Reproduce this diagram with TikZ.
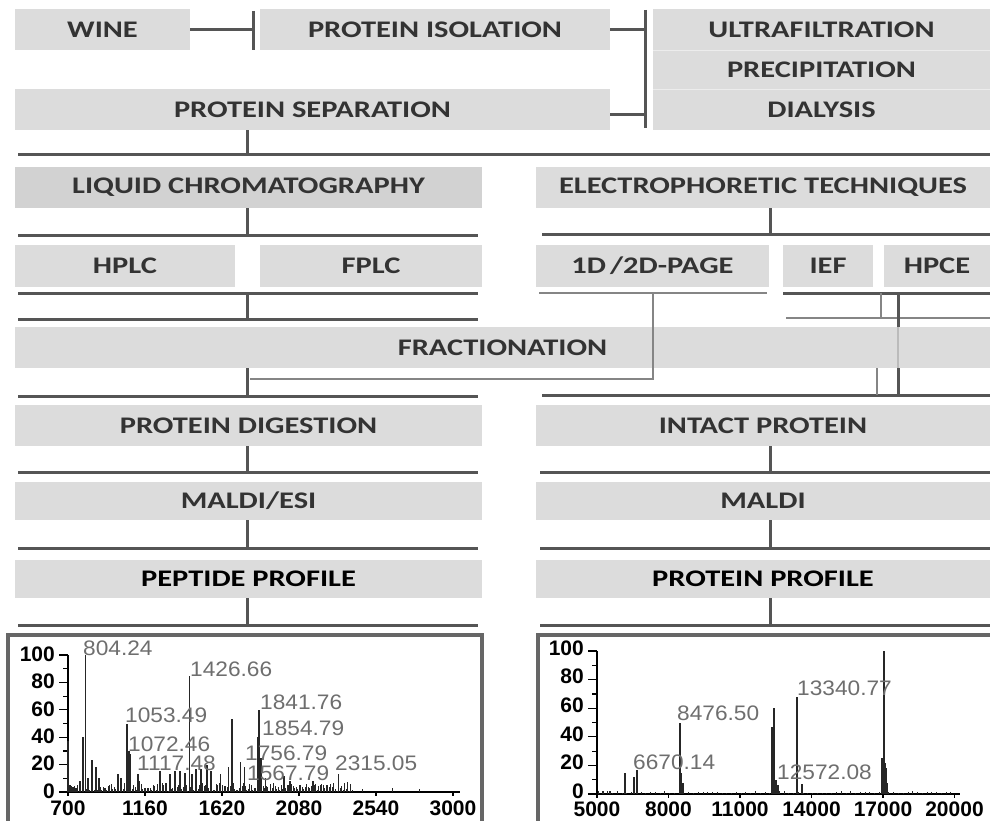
\documentclass[tikz,border=0pt]{standalone}
\usepackage{fontspec}
\setmainfont{Liberation Sans}
\newfontfamily\boxfont{Carlito}[FakeStretch=1.28]
\newfontfamily\specfont{Liberation Sans}[FakeStretch=1.08]
\usetikzlibrary{positioning,calc}
\definecolor{boxgray}{HTML}{DCDCDC}
\definecolor{boxdark}{HTML}{D2D2D2}
\definecolor{linegray}{HTML}{555555}
\definecolor{lightline}{HTML}{858585}
\definecolor{textgray}{HTML}{333333}
\definecolor{framegray}{HTML}{666666}
\definecolor{pkgray}{HTML}{6E6E6E}

\begin{document}
\begin{tikzpicture}[x=1pt, y=-1pt,
  box/.style={fill=boxgray, text=textgray, inner sep=0pt, minimum height=41pt,
              font={\boxfont\bfseries\fontsize{23.8}{28}\selectfont}},
  bus/.style={draw=linegray, line width=3pt},
  thinbus/.style={draw=lightline, line width=2pt},
  frame/.style={draw=framegray, line width=3.5pt},
  axis/.style={draw=black, line width=1.2pt},
  peak/.style={draw=black!85, line width=1.4pt},
  ticklbl/.style={font={\bfseries\fontsize{21}{21}\selectfont}, inner sep=0pt},
  pklbl/.style={font={\specfont\fontsize{21}{21}\selectfont}, text=pkgray,
                inner sep=0pt, anchor=west}]
  \useasboundingbox (0,0) rectangle (990,821);

  % top row
  \node[box, minimum width=175pt] (wine) at (102.5,29.5) {WINE};
  \node[box, minimum width=350pt] (iso) at (435,29.5) {PROTEIN ISOLATION};
  \node[box, minimum width=337pt] (ultra) at (821.5,29.5) {ULTRAFILTRATION};
  \node[box, minimum width=337pt, minimum height=39pt] (precip) at (821.5,69.5) {PRECIPITATION};
  \node[box, minimum width=337pt] (dial) at (821.5,109.5) {DIALYSIS};
  \node[box, minimum width=595pt] (sep) at (312.5,109.5) {PROTEIN SEPARATION};
  \draw[boxgray!55!white, line width=1pt] (ultra.south west) -- (ultra.south east);
  \draw[boxgray!55!white, line width=1pt] (precip.south west) -- (precip.south east);

  % separation methods
  \node[box, fill=boxdark, minimum width=467pt] (lc) at (248.5,187.5) {LIQUID CHROMATOGRAPHY};
  \node[box, minimum width=454pt] (ep) at (763,187.5) {ELECTROPHORETIC TECHNIQUES};
  \node[box, minimum width=220pt, minimum height=42pt] (hplc) at (125,266) {HPLC};
  \node[box, minimum width=222pt, minimum height=42pt] (fplc) at (371,266) {FPLC};
  \node[box, minimum width=233pt, minimum height=42pt] (page) at (652.5,266) {1D\,/2D-PAGE};
  \node[box, minimum width=90pt, minimum height=42pt] (ief) at (828,266) {IEF};
  \node[box, minimum width=106pt, minimum height=42pt] (hpce) at (937,266) {HPCE};
  \node[box, minimum width=975pt] (frac) at (502.5,347.5) {FRACTIONATION};

  % MS branches
  \node[box, minimum width=467pt] (dig) at (248.5,425.5) {PROTEIN DIGESTION};
  \node[box, minimum width=454pt] (intact) at (763,425.5) {INTACT PROTEIN};
  \node[box, minimum width=467pt, minimum height=38pt] (msesi) at (248.5,501) {MALDI/ESI};
  \node[box, minimum width=454pt, minimum height=38pt] (ms) at (763,501) {MALDI};
  \node[box, minimum width=467pt, minimum height=38pt, text=black] (pep) at (248.5,579) {PEPTIDE PROFILE};
  \node[box, minimum width=454pt, minimum height=38pt, text=black] (prot) at (763,579) {PROTEIN PROFILE};

  \coordinate (lcol) at (247,0);
  \coordinate (rcol) at (770,0);

  % wine -> isolation
  \coordinate (winebar) at (253,11);
  \draw[bus] (wine.east) -- (wine.east -| winebar);
  \draw[bus] (winebar) -- (winebar |- iso.south);
  % isolation, separation -> ultrafiltration etc.
  \coordinate (sbar) at (645,10);
  \coordinate (sepout) at ($(sep.east)+(0,5)$);
  \draw[bus] (iso.east) -- (iso.east -| sbar);
  \draw[bus] (sepout) -- (sepout -| sbar);
  \draw[bus] (sbar) -- ($(sbar |- dial.south)+(0,-2)$);

  % separation -> LC / EP
  \coordinate (b1w) at (18,155); \coordinate (b1e) at (990,155);
  \draw[bus] (b1w) -- (b1e);
  \draw[bus] (lcol |- sep.south) -- (lcol |- b1w);
  \coordinate (b2w) at (18,235); \coordinate (b2e) at (478,235);
  \coordinate (b2rw) at (542,234); \coordinate (b2re) at (990,234);
  \draw[bus] (b2w) -- (b2e);
  \draw[bus] (b2rw) -- (b2re);
  \draw[bus] (lcol |- lc.south) -- (lcol |- b2w);
  \draw[bus] (rcol |- ep.south) -- (rcol |- b2rw);

  % HPLC/FPLC -> fractionation
  \coordinate (b3w) at (18,293); \coordinate (b3e) at (478,293);
  \coordinate (b4w) at (18,319); \coordinate (b4e) at (478,319);
  \draw[bus] (b3w) -- (b3e);
  \draw[bus] (b4w) -- (b4e);
  \draw[bus] (lcol |- b3w) -- (lcol |- b4w);

  % fractionation -> digestion / intact
  \coordinate (b5w) at (18,396); \coordinate (b5e) at (478,396);
  \coordinate (b5rw) at (542,395); \coordinate (b5re) at (990,395);
  \draw[bus] (b5w) -- (b5e);
  \draw[bus] (b5rw) -- (b5re);
  \draw[bus] (lcol |- frac.south) -- (lcol |- b5w);

  % 1D/2D-PAGE back to the left chain
  \coordinate (pgw) at (539,293); \coordinate (pge) at (767,293);
  \coordinate (fracjoin) at (250,379);
  \draw[thinbus] (pgw) -- (pge);
  \draw[thinbus] (page.south |- pgw) -- (page.south |- fracjoin) -- (fracjoin);

  % IEF/HPCE
  \coordinate (ihw) at (783,293); \coordinate (ihe) at (990,293);
  \coordinate (iew) at (786,318); \coordinate (iee) at (990,318);
  \coordinate (ieft) at (881,293); \coordinate (iefb) at (877,368);
  \coordinate (hx) at (898,293);
  \draw[bus] (ihw) -- (ihe);
  \draw[thinbus] (iew) -- (iee);
  \draw[thinbus] (ieft) -- (ieft |- iew);
  \draw[thinbus] (iefb) -- (iefb |- b5rw);
  \draw[bus] (hx) -- (hx |- frac.north);
  \draw[draw=boxgray!85!black, line width=2pt] (hx |- frac.north) -- (hx |- frac.south);
  \draw[bus] (hx |- frac.south) -- (hx |- b5rw);

  % digestion / intact chains
  \foreach \l/\r/\y in {dig/intact/472, msesi/ms/548, pep/prot/625} {
    \coordinate (lb) at (18,\y);
    \coordinate (rb) at (540,\y);
    \draw[bus] (lb) -- ++(460,0);
    \draw[bus] (rb) -- ++(450,0);
    \draw[bus] (lcol |- \l.south) -- (lcol |- lb);
    \draw[bus] (rcol |- \r.south) -- (rcol |- rb);
  }

  % peptide spectrum
  \draw[frame] (8,821) -- (8,635) -- (482,635) -- (482,821);
  \begin{scope}[shift={(-49.17,792)}, x=0.16739pt, y=1.37pt]
    \draw[axis] (700,0) -- (700,100);
    \draw[axis] (700,0) -- (3040,0);
    \foreach \v in {0,20,...,100} {
      \draw[axis] (700,\v) -- ++(-9pt,0);
      \node[ticklbl, anchor=east] (py\v) at ([xshift=-13pt, yshift=1pt]700,\v) {\v};
    }
    \foreach \v in {10,30,...,90} \draw[axis] (700,\v) -- ++(-5pt,0);
    \foreach \m in {700,1160,...,3000} {
      \draw[axis] (\m,0) -- ++(0,-4pt);
      \node[ticklbl, anchor=north] (px\m) at ([yshift=-9pt]\m,0) {\m};
    }
    \pgfmathsetseed{11}
    \foreach \m in {705,714,...,2400} \draw[peak, line width=1pt] (\m,0) -- (\m,{1+6*rnd});
    \foreach \m/\h in {700/37, 712/5, 724/4, 748/3, 772/8, 790/40, 804/100, 819/10,
                       843/23, 867/18, 885/10, 921/3, 999/13, 1017/10, 1053/50, 1065/30,
                       1072/28, 1117/13, 1126/8, 1250/15, 1310/13, 1340/15, 1370/15,
                       1400/14, 1427/85, 1440/13, 1465/17, 1495/17, 1530/20, 1555/15,
                       1610/13, 1660/18, 1680/53, 1730/22, 1756/18, 1836/40, 1842/60,
                       1854/25, 1880/10, 1990/12, 2027/8, 2085/5, 2163/8, 2315/13,
                       2460/2, 2640/3, 2800/2}
      \draw[peak] (\m,0) -- (\m,\h);
  \end{scope}
  \node[pklbl] (l804) at (83,648) {804.24};
  \node[pklbl] (l1426) at (190,669) {1426.66};
  \node[pklbl] (l1841) at (260,702) {1841.76};
  \node[pklbl] (l1053) at (125,715) {1053.49};
  \node[pklbl] (l1854) at (262,728) {1854.79};
  \node[pklbl] (l1072) at (128,744) {1072.46};
  \node[pklbl] (l1756) at (245,753) {1756.79};
  \node[pklbl] (l1117) at (137,763) {1117.48};
  \node[pklbl] (l2315) at (335,763) {2315.05};
  \node[pklbl] (l1567) at (247,773) {1567.79};

  % protein spectrum (m/z in thousands)
  \draw[frame] (538,821) -- (538,635) -- (992,635);
  \begin{scope}[shift={(477.83,794)}, x=23.833pt, y=1.43pt]
    \draw[axis] (5,0) -- (5,100);
    \draw[axis] (5,0) -- (20.225,0);
    \foreach \v in {0,20,...,100} {
      \draw[axis] (5,\v) -- ++(-9pt,0);
      \node[ticklbl, anchor=east] (ry\v) at ([xshift=-13pt, yshift=3pt]5,\v) {\v};
    }
    \foreach \v in {10,30,...,90} \draw[axis] (5,\v) -- ++(-5pt,0);
    \foreach \m in {5,8,...,20} {
      \draw[axis] (\m,0) -- ++(0,-4pt);
      \node[ticklbl, anchor=north] (rx\m) at ([yshift=-8pt]\m,0) {\m000};
    }
    \foreach \m in {5.05,5.25,...,19.9} \draw[peak, line width=1pt] (\m,0) -- (\m,{0.5+1.5*rnd});
    \foreach \m/\h in {5.25/2, 5.545/2, 6.175/15, 6.55/12, 6.68/17, 8.48/50, 8.53/15,
                       8.6/8, 12.34/47, 12.43/60, 12.51/10, 12.6/6, 13.39/68,
                       13.6/7, 16.96/25, 17.0/20, 17.04/100, 17.08/22, 17.13/18,
                       17.2/8}
      \draw[peak] (\m,0) -- (\m,\h);
  \end{scope}
  \node[pklbl] (r13340) at (797,688) {13340.77};
  \node[pklbl] (r8476) at (677,713) {8476.50};
  \node[pklbl] (r6670) at (633,762) {6670.14};
  \node[pklbl] (r12572) at (777,772) {12572.08};
\end{tikzpicture}
\end{document}
